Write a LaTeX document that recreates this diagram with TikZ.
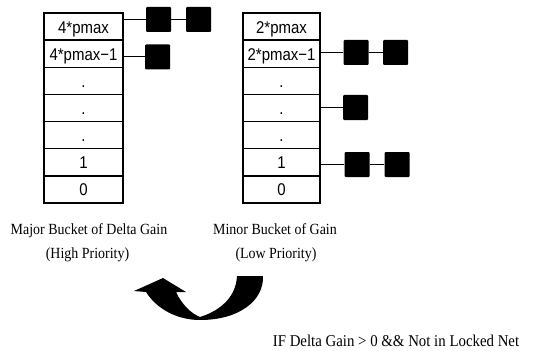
\documentclass[tikz,border=0pt]{standalone}
\usepackage{fontspec}
\setmainfont{Liberation Serif}
\newfontfamily\cellfont[FakeStretch=0.88]{Liberation Sans}
\newfontfamily\labfont[FakeStretch=0.9]{Liberation Serif}
\begin{document}
\begin{tikzpicture}[x=1pt,y=-1pt,
  cell/.style={draw, line width=1.5pt, minimum width=79pt, minimum height=27.14pt,
    inner sep=0pt, text height=13pt, text depth=0pt,
    font=\cellfont\fontsize{17}{18}\selectfont},
  rcell/.style={cell, minimum width=77pt},
  blk/.style={fill=black, minimum size=25pt, inner sep=0pt, rounded corners=1pt},
  link/.style={line width=1pt},
  lab/.style={font=\labfont\fontsize{15.5}{17}\selectfont, inner sep=0pt, anchor=base}]
\useasboundingbox (0,0) rectangle (537,350);
% left bucket
\node[cell] (L6) at (83.5,26.6) {4*pmax};
\node[cell] (L5) at (83.5,53.7) {4*pmax−1};
\node[cell] (L4) at (83.5,80.9) {.};
\node[cell] (L3) at (83.5,108) {.};
\node[cell] (L2) at (83.5,135.1) {.};
\node[cell] (L1) at (83.5,162.3) {1};
\node[cell] (L0) at (83.5,189.4) {0};
% right bucket
\node[rcell] (R6) at (281.5,26.6) {2*pmax};
\node[rcell] (R5) at (281.5,53.7) {2*pmax−1};
\node[rcell] (R4) at (281.5,80.9) {.};
\node[rcell] (R3) at (281.5,108) {.};
\node[rcell] (R2) at (281.5,135.1) {.};
\node[rcell] (R1) at (281.5,162.3) {1};
\node[rcell] (R0) at (281.5,189.4) {0};
% cells
\node[blk] (La) at (158.5,19.5) {};
\node[blk] (Lb) at (198.5,19.5) {};
\node[blk] (Lc) at (157.5,57) {};
\node[blk] (Ra) at (356,52.5) {};
\node[blk] (Rb) at (395.5,52.5) {};
\node[blk] (Rc) at (355.5,107.5) {};
\node[blk] (Rd) at (357,164.5) {};
\node[blk] (Re) at (397,164.5) {};
% connectors
\draw[link] (L6.east |- La) -- (La);
\draw[link] (La) -- (Lb);
\draw[link] (L5.east |- Lc) -- (Lc);
\draw[link] (R5.east |- Ra) -- (Ra);
\draw[link] (Ra) -- (Rb);
\draw[link] (R3.east |- Rc) -- (Rc);
\draw[link] (R1.east |- Rd) -- (Rd);
\draw[link] (Rd) -- (Re);
% labels
\node[lab] (majr) at (89,234) {Major Bucket of Delta Gain};
\node[lab] (hp) at (87.5,258) {(High Priority)};
\node[lab] (minr) at (275,234) {Minor Bucket of Gain};
\node[lab] (lp) at (276,258) {(Low Priority)};
\node[lab, font=\labfont\fontsize{16.5}{18}\selectfont] (cond) at (396,346) {IF Delta Gain > 0 \&\& Not in Locked Net};
% curved arrow
\fill (237,276) -- (263,276) .. controls (264,300) and (240,320) .. (200,320)
  .. controls (176,320) and (156,308) .. (146,292) -- (134,291) -- (163,278)
  -- (186,292) -- (176,292) .. controls (182,305) and (192,314) .. (200,317)
  .. controls (222,310) and (236,296) .. cycle;
\end{tikzpicture}
\end{document}
